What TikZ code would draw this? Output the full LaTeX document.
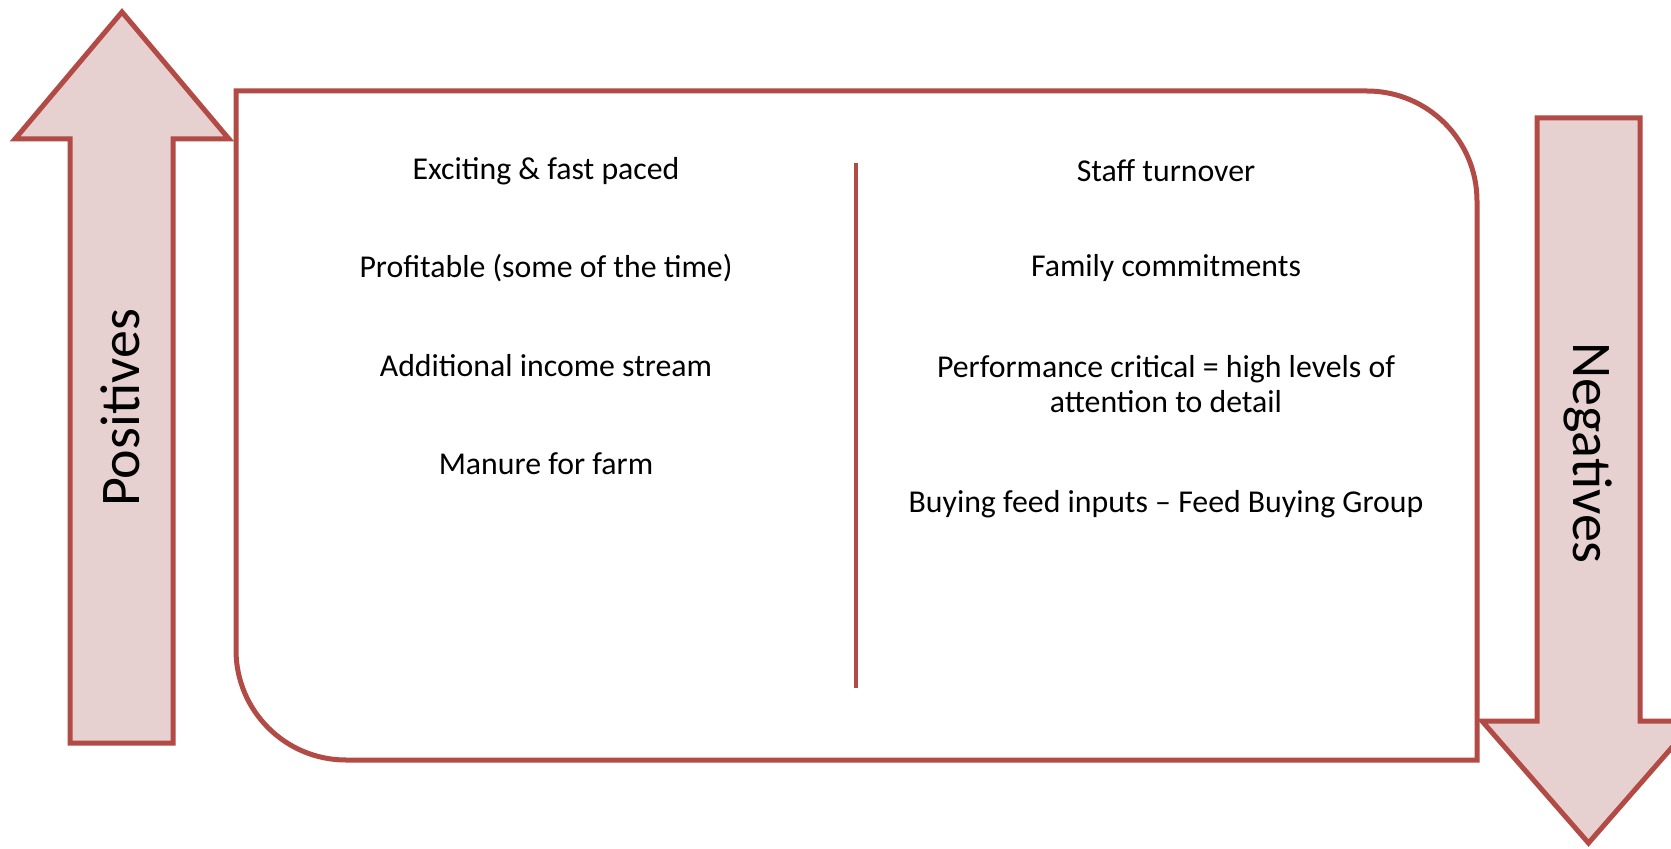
\documentclass[tikz,border=0pt]{standalone}
\usepackage{fontspec}
\setmainfont{Carlito}
\usetikzlibrary{positioning}
\definecolor{edgered}{RGB}{178,74,70}
\definecolor{pinkfill}{RGB}{231,208,208}

\begin{document}
\begin{tikzpicture}[x=0.5pt, y=0.5pt, line join=miter,
      arrowshape/.style={draw=edgered, fill=pinkfill, line width=2.5pt},
      box/.style={draw=edgered, line width=2.5pt},
      item/.style={font=\fontsize{15.9}{17.6}\selectfont, align=center, inner sep=1pt},
      side/.style={font=\fontsize{28}{32}\selectfont, inner sep=0pt}]

    \useasboundingbox (0,0) rectangle (1671,848);
    \clip (0,0) rectangle (1671,848);

    \def\lc{546}   % centre of left column
    \def\rc{1166}  % centre of right column

    % Up arrow (positives)
    \draw[arrowshape] (70,105) -- (70,709) -- (15,709) -- (122,836)
      -- (229,709) -- (173,709) -- (173,105) -- cycle;
    \node[side, rotate=90] (pos) at (120,440) {Positives};

    % Down arrow (negatives), its head runs off the page
    \draw[arrowshape] (1537,730) -- (1537,127) -- (1482,127) -- (1588.5,5)
      -- (1695,127) -- (1640,127) -- (1640,730) -- cycle;
    \node[side, rotate=-90] (neg) at (1588,395) {Negatives};

    % Main panel: two rounded corners, two square ones
    \draw[box] (236,757) -- (1367,757) arc[start angle=90, end angle=0, radius=55pt]
      -- (1477,88) -- (346,88) arc[start angle=270, end angle=180, radius=55pt] -- cycle;

    % Divider
    \coordinate (divtop) at (856,685);
    \coordinate (divbot) at (856,160);
    \draw[draw=edgered, line width=1.6pt] (divtop) -- (divbot);

    % Positives
    \node[item] (p1) at (\lc,677) {Exciting \& fast paced};
    \node[item] (p2) at (\lc,580) {Profitable (some of the time)};
    \node[item] (p3) at (\lc,482) {Additional income stream};
    \node[item] (p4) at (\lc,384) {Manure for farm};

    % Negatives
    \node[item] (n1) at (\rc,677) {Staff turnover};
    \node[item] (n2) at (\rc,580) {Family commitments};
    \node[item] (n3) at (\rc,464) {Performance critical = high levels of\\attention to detail};
    \node[item] (n4) at (\rc,344) {Buying feed inputs – Feed Buying Group};

\end{tikzpicture}
\end{document}
